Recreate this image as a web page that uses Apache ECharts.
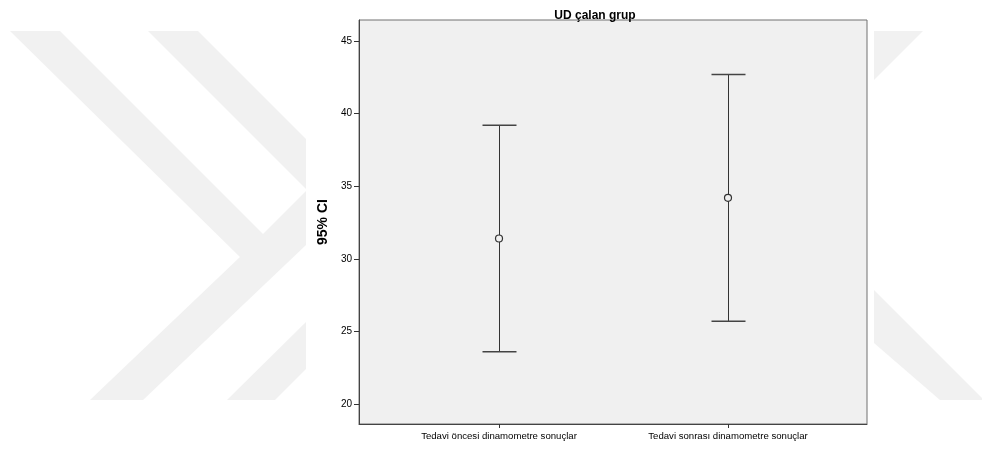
<!DOCTYPE html>
<html>
<head>
<meta charset="utf-8">
<script src="https://cdn.jsdelivr.net/npm/echarts@6/dist/echarts.min.js"></script>
<style>
html,body{margin:0;padding:0;background:#fff;}
#chart{width:982px;height:450px;}
</style>
</head>
<body>
<div id="chart"></div>
<script>
// ---- data ----
var categories = ['Tedavi öncesi dinamometre sonuçlar', 'Tedavi sonrası dinamometre sonuçlar'];
var categoryPos = [1, 2];
var means = [31.4, 34.2];
var lower = [23.6, 25.7];
var upper = [39.2, 42.7];
var yTicks = [20, 25, 30, 35, 40, 45];
var titleText = 'UD çalan grup';
var yName = '95% CI';

var FONT = 'Arial, "Liberation Sans", sans-serif';
var chart = echarts.init(document.getElementById('chart'), null, {renderer: 'canvas'});

var ciData = categoryPos.map(function (x, i) { return [x, lower[i], upper[i]]; });
var meanData = categoryPos.map(function (x, i) { return [x, means[i]]; });

function wm(points) {
  return {type: 'polygon', z: -10, silent: true, shape: {points: points}, style: {fill: '#f1f1f1'}};
}

var option = {
  backgroundColor: '#ffffff',
  animation: false,
  title: {
    text: titleText,
    left: 590,
    top: 5,
    textAlign: 'center',
    textStyle: {fontFamily: FONT, fontSize: 12, fontWeight: 'bold', color: '#000'}
  },
  graphic: [
    wm([[10,31],[60,31],[263,234],[306,191],[306,245],[143,400],[90,400],[240,257]]),
    wm([[148,31],[198,31],[306,139],[306,189]]),
    wm([[227,400],[275,400],[306,369],[306,322]]),
    wm([[874,31],[923,31],[874,80]]),
    wm([[874,290],[982,398],[982,400],[940,400],[874,343]])
  ],
  grid: {
    left: 359, right: 115, top: 20, bottom: 26,
    show: true,
    backgroundColor: '#f0f0f0',
    borderColor: '#707070',
    borderWidth: 1
  },
  xAxis: {
    type: 'value',
    min: 0.3886,
    max: 2.607,
    splitLine: {show: false},
    axisLine: {show: true, onZero: false, lineStyle: {color: '#444', width: 1}},
    axisTick: {show: true, length: 4, customValues: categoryPos, lineStyle: {color: '#333'}},
    axisLabel: {
      customValues: categoryPos,
      margin: 7,
      fontFamily: FONT, fontSize: 9.6, color: '#000',
      formatter: function (v) {
        var i = categoryPos.indexOf(Math.round(v));
        return i >= 0 ? categories[i] : '';
      }
    }
  },
  yAxis: {
    type: 'value',
    min: 18.62,
    max: 46.45,
    splitLine: {show: false},
    axisLine: {show: true, onZero: false, lineStyle: {color: '#444', width: 1}},
    axisTick: {show: true, length: 5, customValues: yTicks, lineStyle: {color: '#333'}},
    axisLabel: {customValues: yTicks, margin: 7, fontFamily: FONT, fontSize: 10, color: '#000'},
    name: yName,
    nameLocation: 'middle',
    nameGap: 24,
    nameRotate: 90,
    nameTextStyle: {fontFamily: FONT, fontSize: 14, fontWeight: 'bold', color: '#000'}
  },
  series: [
    {
      type: 'custom',
      data: ciData,
      encode: {x: 0, y: [1, 2]},
      renderItem: function (params, api) {
        var x = api.value(0);
        var pLo = api.coord([x, api.value(1)]);
        var pHi = api.coord([x, api.value(2)]);
        var hw = 17;
        var cx = Math.round(pLo[0]) + 0.5;
        return {
          type: 'group',
          children: [
            {type: 'line', shape: {x1: cx, y1: pLo[1], x2: cx, y2: pHi[1]}, style: {stroke: '#333', lineWidth: 1}},
            {type: 'line', shape: {x1: cx - hw, y1: pHi[1], x2: cx + hw, y2: pHi[1]}, style: {stroke: '#444', lineWidth: 1.5}},
            {type: 'line', shape: {x1: cx - hw, y1: pLo[1], x2: cx + hw, y2: pLo[1]}, style: {stroke: '#444', lineWidth: 1.5}}
          ]
        };
      },
      z: 2
    },
    {
      type: 'scatter',
      data: meanData,
      symbol: 'circle',
      symbolSize: 7,
      itemStyle: {color: '#f0f0f0', borderColor: '#333', borderWidth: 1.2, opacity: 1},
      z: 3
    }
  ]
};
chart.setOption(option);
</script>
</body>
</html>
